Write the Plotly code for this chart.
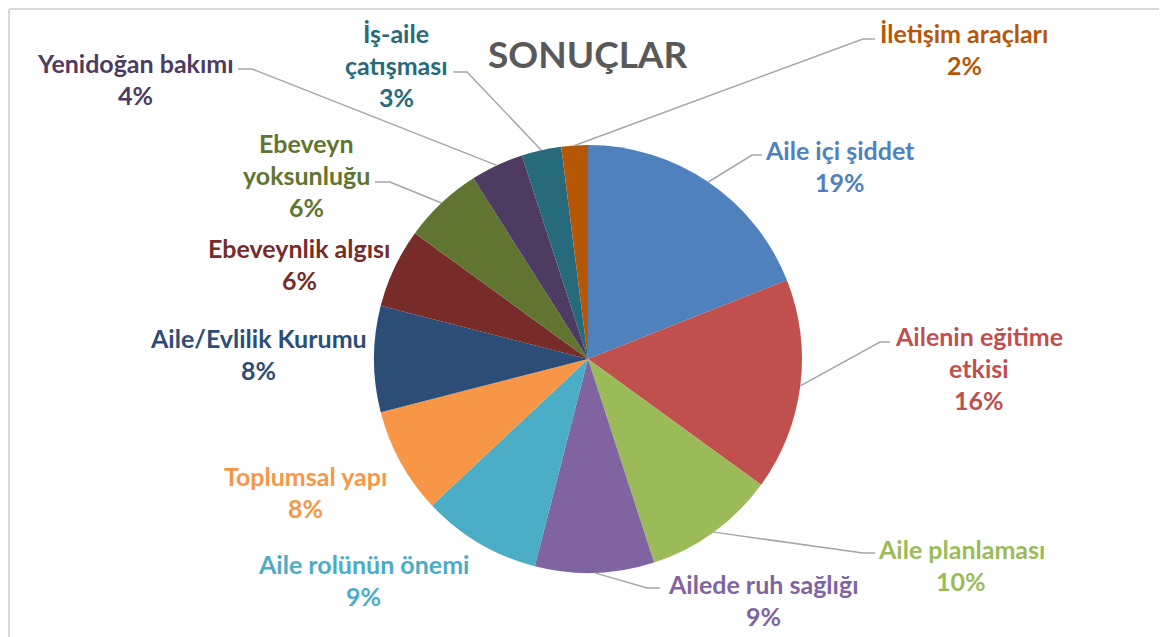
import math
import textwrap
import plotly.graph_objects as go

# ---------------- data ----------------
categories = [
    "Aile içi şiddet",
    "Ailenin eğitime etkisi",
    "Aile planlaması",
    "Ailede ruh sağlığı",
    "Aile rolünün önemi",
    "Toplumsal yapı",
    "Aile/Evlilik Kurumu",
    "Ebeveynlik algısı",
    "Ebeveyn yoksunluğu",
    "Yenidoğan bakımı",
    "İş-aile çatışması",
    "İletişim araçları",
]
values = [19, 16, 10, 9, 9, 8, 8, 6, 6, 4, 3, 2]
title_text = "SONUÇLAR"

# ---------------- styles / layout ----------------
colors = ["#4F81BD", "#C0504D", "#9BBB59", "#8064A2", "#4BACC6", "#F79646",
          "#2C4D75", "#772C2A", "#5F7530", "#4D3B62", "#276A7C", "#B65708"]
OFF = 8                               # page body margin in the browser
VW, VH = 1167, 637
W, H = VW - OFF, VH - OFF
CX, CY, R = 588, 359, 214             # pie centre / radius in screen pixels
FONT = "Lato"
FS = 25
LINE_GAP = 32
wrap_width = [None, 15, None, None, None, None, None, None, 10, None, 9, None]
# label anchor (centre x, first line centre y) in screen pixels
label_pos = [(840, 150), (979, 336), (961, 549), (763, 584), (363, 564), (305, 476),
             (258, 338), (299, 248), (306, 143), (135, 63), (396, 33), (964, 33)]
# leader line elbow and end points in screen pixels (None = no leader)
leaders = [((752, 155), (762, 155)), ((880, 342), (890, 342)), ((863, 553), (875, 553)),
           ((647, 588), (660, 588)), None, None, None, None,
           ((390, 182), (375, 182)), ((252, 69), (238, 69)), ((467, 72), (453, 72)),
           ((863, 39), (875, 39))]


def px(x):
    return (x - OFF) / W


def py(y):
    return 1 - (y - OFF) / H


fig = go.Figure(go.Pie(
    labels=categories, values=values, sort=False, direction="clockwise",
    rotation=0, textinfo="none", hoverinfo="label+percent",
    marker=dict(colors=colors, line=dict(width=0)),
    domain=dict(x=[px(CX - R), px(CX + R)], y=[py(CY + R), py(CY - R)]),
    showlegend=False,
))

total = sum(values)
annotations = []
shapes = []
cum = 0
for i, (cat, v) in enumerate(zip(categories, values)):
    mid = (cum + v / 2) / total * 2 * math.pi
    cum += v
    ex, ey = CX + R * math.sin(mid), CY - R * math.cos(mid)
    lines = textwrap.wrap(cat, wrap_width[i]) if wrap_width[i] else [cat]
    lines.append(f"{v / total * 100:.0f}%")
    lx, ly = label_pos[i]
    for k, t in enumerate(lines):
        annotations.append(dict(
            x=px(lx), y=py(ly + k * LINE_GAP), xref="paper", yref="paper",
            text=f"<b>{t}</b>", showarrow=False, xanchor="center", yanchor="middle",
            font=dict(family=FONT, size=FS, color=colors[i])))
    if leaders[i]:
        (bx, by), (sx, sy) = leaders[i]
        shapes.append(dict(
            type="path", xref="paper", yref="paper",
            path=f"M {px(ex)},{py(ey)} L {px(bx)},{py(by)} L {px(sx)},{py(sy)}",
            line=dict(color="#A6A6A6", width=1.5)))

annotations.append(dict(
    x=px(588), y=py(53), xref="paper", yref="paper", text=f"<b>{title_text}</b>",
    showarrow=False, xanchor="center", yanchor="middle",
    font=dict(family=FONT, size=37, color="#595959")))

# chart frame (top and left edges visible)
FX, FY = 9, 9
shapes.append(dict(type="line", xref="paper", yref="paper", x0=px(FX), x1=1.01,
                   y0=py(FY), y1=py(FY), line=dict(color="#D9D9D9", width=2)))
shapes.append(dict(type="line", xref="paper", yref="paper", x0=px(FX), x1=px(FX),
                   y0=py(FY), y1=-0.01, line=dict(color="#D9D9D9", width=2)))

fig.update_layout(
    width=W, height=H, margin=dict(l=0, r=0, t=0, b=0),
    paper_bgcolor="white", plot_bgcolor="white",
    annotations=annotations, shapes=shapes,
)
fig.write_html("out.html")
